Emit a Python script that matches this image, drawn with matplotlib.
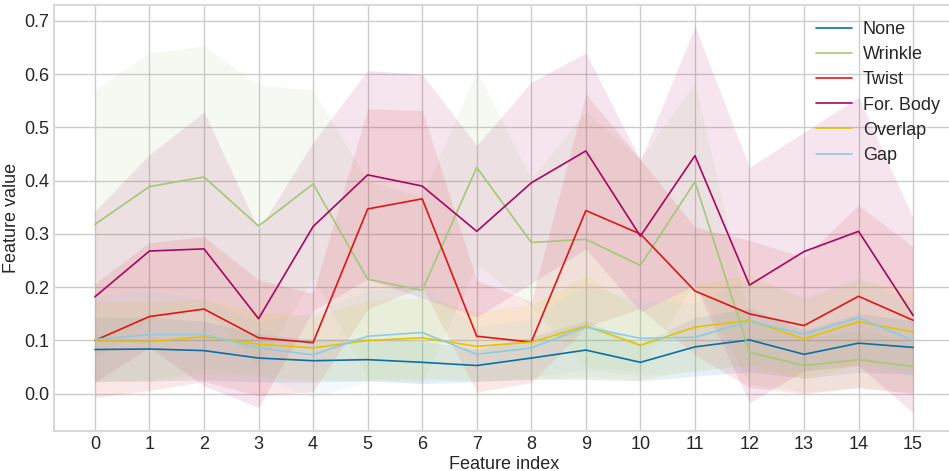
import numpy as np
import matplotlib
matplotlib.use('Agg')
import matplotlib.pyplot as plt

plt.style.use('seaborn-v0_8-whitegrid')
plt.rcParams['font.family'] = ['Liberation Sans', 'DejaVu Sans']

features = list(range(16))
labels = ['None', 'Wrinkle', 'Twist', 'For. Body', 'Overlap', 'Gap']
colors = ['#0a6fa8', '#a3c878', '#e01515', '#a8075e', '#e3c400', '#8ccbe3']

none_mean = [0.083, 0.084, 0.081, 0.067, 0.062, 0.064, 0.059, 0.053, 0.067, 0.082, 0.059, 0.088, 0.101, 0.074, 0.095, 0.087]
none_std = [0.06, 0.06, 0.055, 0.045, 0.04, 0.04, 0.04, 0.03, 0.04, 0.055, 0.035, 0.055, 0.06, 0.045, 0.055, 0.05]

wrinkle_mean = [0.318, 0.389, 0.407, 0.315, 0.394, 0.215, 0.194, 0.425, 0.284, 0.290, 0.241, 0.398, 0.078, 0.053, 0.064, 0.051]
wrinkle_std = [0.253, 0.251, 0.246, 0.265, 0.176, 0.185, 0.175, 0.182, 0.12, 0.24, 0.2, 0.187, 0.06, 0.05, 0.055, 0.048]

twist_mean = [0.100, 0.145, 0.159, 0.105, 0.096, 0.347, 0.366, 0.108, 0.097, 0.344, 0.300, 0.193, 0.150, 0.128, 0.183, 0.138]
twist_std = [0.107, 0.139, 0.136, 0.109, 0.092, 0.188, 0.166, 0.105, 0.076, 0.219, 0.14, 0.12, 0.138, 0.128, 0.171, 0.138]

body_mean = [0.182, 0.268, 0.272, 0.141, 0.314, 0.411, 0.390, 0.305, 0.396, 0.456, 0.296, 0.447, 0.204, 0.267, 0.305, 0.147]
body_std = [0.161, 0.181, 0.257, 0.167, 0.158, 0.196, 0.21, 0.161, 0.189, 0.184, 0.142, 0.243, 0.221, 0.224, 0.252, 0.183]

overlap_mean = [0.099, 0.098, 0.107, 0.093, 0.086, 0.100, 0.105, 0.089, 0.097, 0.127, 0.091, 0.125, 0.138, 0.103, 0.135, 0.116]
overlap_std = [0.075, 0.075, 0.07, 0.06, 0.06, 0.075, 0.075, 0.065, 0.07, 0.095, 0.065, 0.08, 0.085, 0.075, 0.08, 0.075]

gap_mean = [0.102, 0.111, 0.111, 0.086, 0.073, 0.108, 0.115, 0.074, 0.086, 0.125, 0.104, 0.106, 0.136, 0.112, 0.143, 0.100]
gap_std = [0.08, 0.085, 0.065, 0.05, 0.08, 0.085, 0.09, 0.05, 0.055, 0.08, 0.07, 0.065, 0.08, 0.07, 0.075, 0.07]

means = [none_mean, wrinkle_mean, twist_mean, body_mean, overlap_mean, gap_mean]
stds = [none_std, wrinkle_std, twist_std, body_std, overlap_std, gap_std]

fig = plt.figure(figsize=(9.49, 4.71), dpi=100)
ax = fig.add_axes([0.0569, 0.0849, 0.9484, 0.9045])

for m, s, c, lab in zip(means, stds, colors, labels):
    m = np.array(m)
    s = np.array(s)
    ax.fill_between(features, m - s, m + s, color=c, alpha=0.1, linewidth=0)
    ax.plot(features, m, color=c, linewidth=1.2, label=lab)

ax.set_xlim(-0.75, 15.75)
ax.set_ylim(-0.07, 0.73)
ax.set_xticks(features)
ax.set_yticks(np.arange(0, 0.71, 0.1))
ax.tick_params(labelsize=13, colors='0.15')
ax.set_xlabel('Feature index', fontsize=13, color='0.15', labelpad=2)
ax.set_ylabel('Feature value', fontsize=13, color='0.15', labelpad=3)
ax.grid(True, color='0.8', linewidth=1)
for sp in ax.spines.values():
    sp.set_color('0.85')
    sp.set_linewidth(1.5)

ax.legend(loc='upper left', bbox_to_anchor=(0.829, 1.0), fontsize=13, frameon=False,
          handlelength=2.0, handletextpad=0.58, labelspacing=0.45)

fig.savefig('out.png', dpi=100)
